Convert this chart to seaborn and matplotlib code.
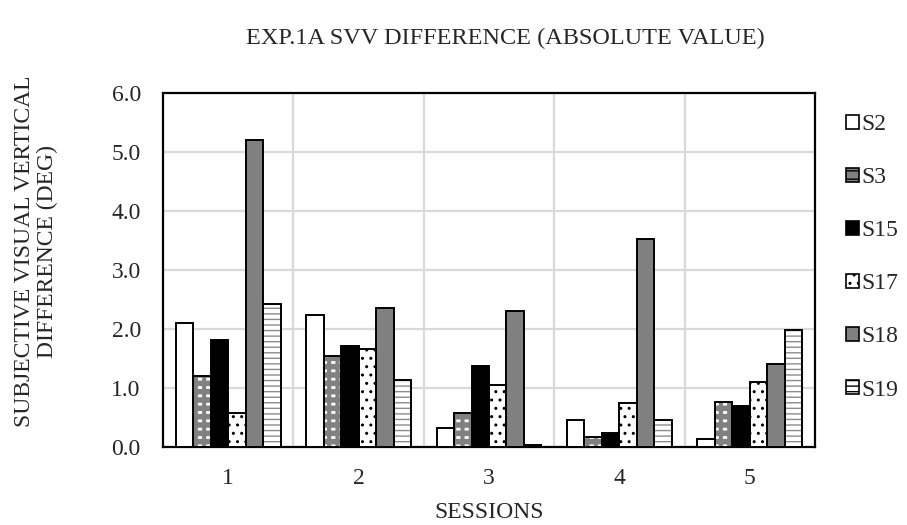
import numpy as np
import pandas as pd
import matplotlib
matplotlib.use("Agg")
import matplotlib.pyplot as plt
from matplotlib.patches import Rectangle
import seaborn as sns

sessions = ["1", "2", "3", "4", "5"]
subjects = ["S2", "S3", "S15", "S17", "S18", "S19"]
s2 = [2.10, 2.23, 0.33, 0.46, 0.13]
s3 = [1.20, 1.55, 0.57, 0.17, 0.76]
s15 = [1.81, 1.71, 1.37, 0.23, 0.70]
s17 = [0.58, 1.66, 1.05, 0.75, 1.10]
s18 = [5.21, 2.35, 2.31, 3.52, 1.40]
s19 = [2.42, 1.14, 0.03, 0.45, 1.99]
yticks = [0.0, 1.0, 2.0, 3.0, 4.0, 5.0, 6.0]

values = {"S2": s2, "S3": s3, "S15": s15, "S17": s17, "S18": s18, "S19": s19}
rows = [(sess, subj, values[subj][i]) for subj in subjects for i, sess in enumerate(sessions)]
df = pd.DataFrame(rows, columns=["session", "subject", "value"])

# fill, list of (hatch pattern, hatch colour, hatch width) layers per subject
GRAY = "#808080"
styles = {
    "S2": ("white", []),
    "S3": (GRAY, [("--", "white", 2.0), ("||", GRAY, 3.0)]),
    "S15": ("black", []),
    "S17": ("white", [("..", "black", 1.0)]),
    "S18": (GRAY, []),
    "S19": ("white", [("---", "#8c8c8c", 1.0)]),
}

FS = 17

sns.set_theme(style="white")
plt.rcParams["font.family"] = ["Liberation Serif", "DejaVu Serif"]
plt.rcParams["hatch.linewidth"] = 1.0


def hatch_layer(xy, w, h, pattern, color, lw, z):
    r = Rectangle(xy, w, h, fill=False, hatch=pattern, edgecolor=color,
                  linewidth=0, zorder=z)
    if hasattr(r, "set_hatch_linewidth"):
        r.set_hatch_linewidth(lw)
    return r


fig = plt.figure(figsize=(9.07, 5.25), dpi=100)
ax = fig.add_axes([163 / 907, 1 - 447 / 525, (815 - 163) / 907, (447 - 93) / 525])

sns.barplot(data=df, x="session", y="value", hue="subject", order=sessions,
            hue_order=subjects, width=0.805, errorbar=None, ax=ax, legend=False,
            gap=0)

for subj, cont in zip(subjects, ax.containers):
    face, layers = styles[subj]
    for p in cont.patches:
        p.set_facecolor(face)
        p.set_edgecolor("none")
        p.set_zorder(3)
        x, y = p.get_xy()
        w, h = p.get_width(), p.get_height()
        for k, (pat, col, lw) in enumerate(layers):
            ax.add_patch(hatch_layer((x, y), w, h, pat, col, lw, 3.1 + 0.01 * k))
        ax.add_patch(Rectangle((x, y), w, h, fill=False, edgecolor="black",
                               linewidth=1.4, zorder=3.2))

ax.set_ylim(0, 6)
ax.set_xlim(-0.5, 4.5)
ax.set_yticks(yticks)
ax.set_yticklabels([f"{t:.1f}" for t in yticks], fontsize=FS)
ax.set_xticks(range(len(sessions)))
ax.set_xticklabels(sessions, fontsize=FS)
ax.tick_params(axis="y", length=0, pad=16)
ax.tick_params(axis="x", length=0, pad=15)

# gridlines: horizontal at ticks, vertical at session boundaries
for t in yticks[1:-1]:
    ax.axhline(t, color="#d9d9d9", linewidth=1.6, zorder=1)
for b in np.arange(0.5, 4.5, 1.0):
    ax.axvline(b, color="#d9d9d9", linewidth=1.6, zorder=1)

for s in ax.spines.values():
    s.set_color("black")
    s.set_linewidth(1.6)
    s.set_visible(True)

ax.set_xlabel("SESSIONS", fontsize=FS)
ax.xaxis.set_label_coords(0.5, -(502 - 447) / 354)
ax.set_ylabel("SUBJECTIVE VISUAL VERTICAL\nDIFFERENCE (DEG)", fontsize=FS,
              linespacing=1.1)
ax.yaxis.set_label_coords(-(163 - 58) / 652, (447 - 251) / 354)
fig.text(505 / 907, 1 - 38 / 525,
         "EXP.1A SVV DIFFERENCE (ABSOLUTE VALUE)", fontsize=17.5,
         ha="center", va="center")

handles = []
for subj in subjects:
    face, layers = styles[subj]
    hatch = layers[0][0] if layers else None
    handles.append(Rectangle((0, 0), 1, 1, facecolor=face, edgecolor="black",
                             linewidth=1.2, hatch=hatch))
leg = fig.legend(handles, subjects, loc="upper left",
                 bbox_to_anchor=(846 / 907, 1 - 114 / 525), frameon=False,
                 fontsize=FS, handlelength=0.55, handleheight=0.55,
                 handletextpad=0.1, labelspacing=1.36, borderaxespad=0,
                 borderpad=0)

fig.savefig("out.png", dpi=100)
